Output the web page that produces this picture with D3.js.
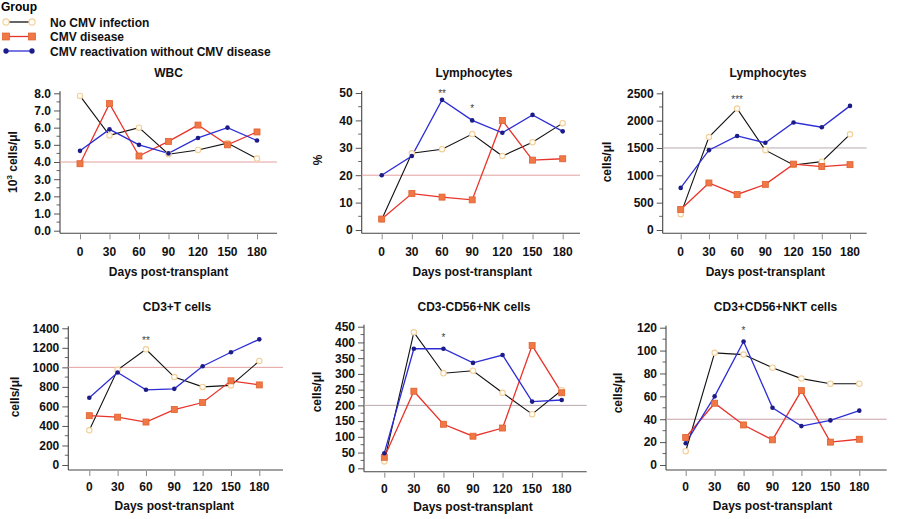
<!DOCTYPE html>
<html><head><meta charset="utf-8">
<script src="https://cdn.jsdelivr.net/npm/d3@7"></script>
<style>
body{margin:0;background:#fff;}
text{font-family:"Liberation Sans",Arial,sans-serif;}
</style></head><body>
<svg id="chart" width="902" height="519"></svg>
<script>
// ---------- data ----------
const days = [0, 30, 60, 90, 120, 150, 180];
const groups = ["No CMV infection", "CMV disease", "CMV reactivation without CMV disease"];
const panelTitles = ["WBC", "Lymphocytes", "Lymphocytes", "CD3+T cells", "CD3-CD56+NK cells", "CD3+CD56+NKT cells"];
const xTitle = "Days post-transplant";

const wbcNoCMV   = [7.85, 5.55, 6.0, 4.45, 4.7, 5.1, 4.2];
const wbcDisease = [3.9, 7.4, 4.35, 5.2, 6.15, 5.0, 5.75];
const wbcReact   = [4.65, 5.9, 5.0, 4.5, 5.4, 6.0, 5.25];

const lymPctNoCMV   = [3.8, 28, 29.5, 35, 27, 32, 39];
const lymPctDisease = [4, 13.3, 12, 11, 40, 25.5, 26];
const lymPctReact   = [20, 27, 47.5, 40, 35.5, 42, 36];

const lymAbsNoCMV   = [290, 1700, 2220, 1460, 1190, 1250, 1750];
const lymAbsDisease = [375, 860, 650, 835, 1205, 1160, 1195];
const lymAbsReact   = [770, 1460, 1720, 1595, 1965, 1880, 2270];

const cd3NoCMV   = [355, 975, 1185, 900, 800, 815, 1065];
const cd3Disease = [505, 490, 440, 568, 640, 862, 820];
const cd3React   = [688, 948, 770, 780, 1012, 1155, 1287];

const nkNoCMV   = [22, 432, 302, 310, 240, 172, 248];
const nkDisease = [35, 245, 140, 102, 128, 390, 240];
const nkReact   = [48, 380, 380, 335, 360, 212, 217];

const nktNoCMV   = [12, 98, 96.5, 85, 75.5, 71, 71];
const nktDisease = [24, 54, 35, 22, 65, 20, 22.5];
const nktReact   = [19, 60, 108, 50, 34, 39, 47.5];

const refValues = [4.0, 20, 1500, 1000, 200, 40];
const yMaxTicks = [8, 50, 2500, 1400, 450, 120];
const yTickSteps = [1, 10, 500, 200, 50, 20];
const sigMarks = [
  [],
  [{day: 60, label: "**", value: 50.6}, {day: 90, label: "*", value: 45}],
  [{day: 60, label: "***", value: 2430}],
  [{day: 60, label: "**", value: 1300}],
  [{day: 60, label: "*", value: 421}],
  [{day: 60, label: "*", value: 119}]
];

const seriesData = [
  [wbcNoCMV, wbcDisease, wbcReact],
  [lymPctNoCMV, lymPctDisease, lymPctReact],
  [lymAbsNoCMV, lymAbsDisease, lymAbsReact],
  [cd3NoCMV, cd3Disease, cd3React],
  [nkNoCMV, nkDisease, nkReact],
  [nktNoCMV, nktDisease, nktReact]
];

// ---------- layout (pixels) ----------
const layouts = [
  {ax: 60,    x0: 80,    x180: 257,   xEnd: 277,   yTopPx: 93.3,  y0Px: 230.7, axisY: 233.3, title: [168.5, 77], tickY: 255.5, xtY: 275.5, ytX: 17, ytY: 162, fmt: ".1f", minor: true,  ref: "#e3a0a0", ytitle: "exp"},
  {ax: 361.7, x0: 381.7, x180: 562.7, xEnd: 580,   yTopPx: 93,    y0Px: 230,   axisY: 233.3, title: [474, 77],   tickY: 255.5, xtY: 275.5, ytX: 322, ytY: 160, fmt: "d",   minor: true,  ref: "#e3a0a0", ytitle: "%"},
  {ax: 662.7, x0: 680.7, x180: 850,   xEnd: 866.7, yTopPx: 93.3,  y0Px: 230,   axisY: 233.3, title: [768, 77],   tickY: 255.5, xtY: 275.5, ytX: 611, ytY: 162, fmt: "d",   minor: true,  ref: "#b8a8b0", ytitle: "cells"},
  {ax: 68.3,  x0: 89.3,  x180: 259.3, xEnd: 283,   yTopPx: 328.3, y0Px: 465,   axisY: 470,   title: [177, 311],  tickY: 491,   xtY: 509.5, ytX: 19,  ytY: 397, fmt: "d",   minor: true,  ref: "#e3a0a0", ytitle: "cells"},
  {ax: 364,   x0: 384.3, x180: 561.7, xEnd: 586.7, yTopPx: 326.7, y0Px: 468.3, axisY: 471.7, title: [474, 311],  tickY: 492.5, xtY: 510.5, ytX: 321, ytY: 392, fmt: "d",   minor: true,  ref: "#b8a8b0", ytitle: "cells"},
  {ax: 666,   x0: 685.7, x180: 859.3, xEnd: 886.7, yTopPx: 327.7, y0Px: 465,   axisY: 470,   title: [775.5, 311], tickY: 491,  xtY: 509.5, ytX: 622, ytY: 393, fmt: "d",   minor: true,  ref: "#c8a0a8", ytitle: "cells"}
];

const lineColors = ["#111111", "#e8342a", "#2d2dd6"];

const svg = d3.select("#chart");

// ---------- legend ----------
const leg = svg.append("g");
leg.append("text").attr("x", 1).attr("y", 11).attr("font-size", 12).attr("font-weight", "bold").text("Group");
const legRows = [22, 36.5, 51];
groups.forEach((g, i) => {
  const y = legRows[i];
  leg.append("line").attr("x1", 6).attr("x2", 32).attr("y1", y).attr("y2", y)
    .attr("stroke", lineColors[i]).attr("stroke-width", 1.3);
  [6, 32].forEach(x => drawMarker(leg, i, x, y, 1.15));
  leg.append("text").attr("x", 50).attr("y", y + 4.5).attr("font-size", 12).attr("font-weight", "bold")
    .attr("fill", "#111").text(g);
});

function drawMarker(sel, i, x, y, k) {
  k = k || 1;
  if (i === 0) {
    sel.append("circle").attr("cx", x).attr("cy", y).attr("r", 2.7 * k)
      .attr("fill", "#fffdf8").attr("stroke", "#f2cf98").attr("stroke-width", 1.1);
  } else if (i === 1) {
    const s = 6 * k;
    sel.append("rect").attr("x", x - s / 2).attr("y", y - s / 2).attr("width", s).attr("height", s)
      .attr("fill", "#ef7846").attr("stroke", "#e0602e").attr("stroke-width", 0.8);
  } else {
    sel.append("circle").attr("cx", x).attr("cy", y).attr("r", 2.3 * k).attr("fill", "#1c1c88");
  }
}

// ---------- panels ----------
layouts.forEach((L, p) => {
  const g = svg.append("g");
  const x = d3.scaleLinear().domain([0, 180]).range([L.x0, L.x180]);
  const y = d3.scaleLinear().domain([0, yMaxTicks[p]]).range([L.y0Px, L.yTopPx]);
  const step = yTickSteps[p];
  const majors = d3.range(0, yMaxTicks[p] + step / 2, step);
  const minors = d3.range(step / 2, yMaxTicks[p], step);

  // title
  g.append("text").attr("x", L.title[0]).attr("y", L.title[1]).attr("text-anchor", "middle")
    .attr("font-size", 12).attr("font-weight", "bold").attr("fill", "#111").text(panelTitles[p]);

  // y axis
  const yAxis = d3.axisLeft(y).tickValues(majors).tickSize(6).tickPadding(3)
    .tickFormat(L.fmt === ".1f" ? d3.format(".1f") : d3.format("d"));
  const ya = g.append("g").attr("transform", `translate(${L.ax},0)`).call(yAxis);
  ya.select(".domain").remove();
  ya.selectAll("line").attr("stroke", "#555");
  ya.selectAll("text").attr("font-size", 12).attr("font-weight", "bold").attr("fill", "#111")
    .attr("font-family", "Liberation Sans, Arial, sans-serif");
  if (L.minor) {
    g.selectAll(null).data(minors).join("line")
      .attr("x1", L.ax - 3.5).attr("x2", L.ax).attr("y1", d => y(d)).attr("y2", d => y(d))
      .attr("stroke", "#666");
  }
  g.append("line").attr("x1", L.ax).attr("x2", L.ax).attr("y1", L.yTopPx - 2).attr("y2", L.axisY)
    .attr("stroke", "#444").attr("stroke-width", 1.1);

  // x axis
  const xAxis = d3.axisBottom(x).tickValues(days).tickSize(5).tickPadding(10).tickFormat(d3.format("d"));
  const xa = g.append("g").attr("transform", `translate(0,${L.axisY + 1})`).call(xAxis);
  xa.select(".domain").remove();
  xa.selectAll("line").attr("stroke", "#888");
  xa.selectAll("text").remove();
  g.selectAll(null).data(days).join("text")
    .attr("x", d => x(d)).attr("y", L.tickY).attr("text-anchor", "middle")
    .attr("font-size", 12).attr("font-weight", "bold").attr("fill", "#111").text(d => d);
  g.append("line").attr("x1", L.ax).attr("x2", L.xEnd).attr("y1", L.axisY).attr("y2", L.axisY)
    .attr("stroke", "#444").attr("stroke-width", 1.1);
  g.append("text").attr("x", (L.x0 + L.x180) / 2).attr("y", L.xtY).attr("text-anchor", "middle")
    .attr("font-size", 12).attr("font-weight", "bold").attr("fill", "#111").text(xTitle);

  // y title
  const yt = g.append("text").attr("transform", `translate(${L.ytX},${L.ytY}) rotate(-90)`)
    .attr("text-anchor", "middle").attr("font-size", 12).attr("font-weight", "bold").attr("fill", "#111");
  if (L.ytitle === "exp") {
    yt.append("tspan").text("10");
    yt.append("tspan").attr("font-size", 8).attr("dy", -5).text("3");
    yt.append("tspan").attr("dy", 5).text(" cells/μl");
  } else if (L.ytitle === "%") {
    yt.text("%");
  } else {
    yt.text("cells/μl");
  }

  // reference line
  g.append("line").attr("x1", L.ax).attr("x2", L.xEnd).attr("y1", y(refValues[p])).attr("y2", y(refValues[p]))
    .attr("stroke", L.ref).attr("stroke-width", 1);

  // series
  const line = d3.line().x((d, i) => x(days[i])).y(d => y(d));
  seriesData[p].forEach((vals, i) => {
    g.append("path").attr("d", line(vals)).attr("fill", "none")
      .attr("stroke", lineColors[i]).attr("stroke-width", i === 0 ? 1.1 : 1.3);
  });
  seriesData[p].forEach((vals, i) => {
    vals.forEach((v, j) => drawMarker(g, i, x(days[j]), y(v), 1));
  });

  // significance marks
  sigMarks[p].forEach(s => {
    g.append("text").attr("x", x(s.day)).attr("y", y(s.value) + 5.5).attr("text-anchor", "middle")
      .attr("font-size", 10).attr("fill", "#444").text(s.label);
  });
});
</script>
</body></html>
